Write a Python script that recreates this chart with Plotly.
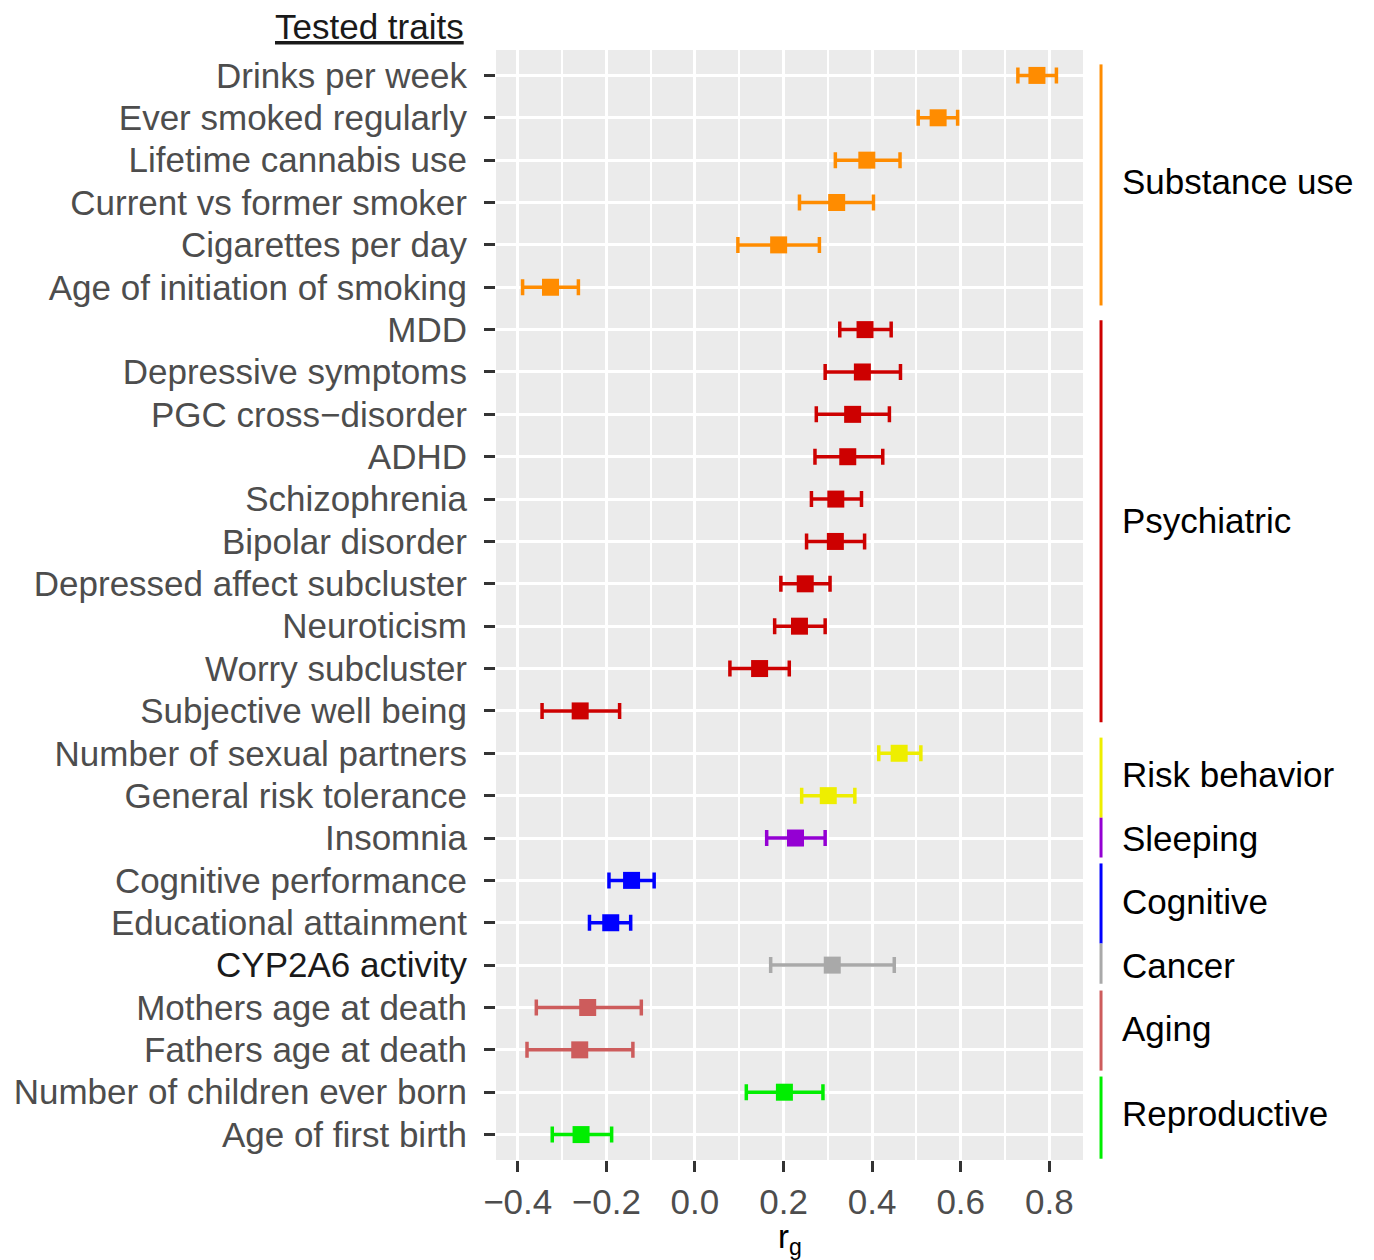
import plotly.graph_objects as go

# trait names, top to bottom
traits = [
    "Drinks per week", "Ever smoked regularly", "Lifetime cannabis use",
    "Current vs former smoker", "Cigarettes per day", "Age of initiation of smoking",
    "MDD", "Depressive symptoms", "PGC cross\u2212disorder", "ADHD", "Schizophrenia",
    "Bipolar disorder", "Depressed affect subcluster", "Neuroticism",
    "Worry subcluster", "Subjective well being",
    "Number of sexual partners", "General risk tolerance",
    "Insomnia",
    "Cognitive performance", "Educational attainment",
    "CYP2A6 activity",
    "Mothers age at death", "Fathers age at death",
    "Number of children ever born", "Age of first birth",
]

# genetic correlation and CI
rg = [0.772, 0.549, 0.388, 0.320, 0.189, -0.326,
      0.384, 0.378, 0.356, 0.345, 0.318, 0.317, 0.249, 0.236, 0.146, -0.259,
      0.461, 0.301,
      0.227,
      -0.143, -0.190,
      0.310,
      -0.242, -0.260,
      0.202, -0.257]
ci_low = [0.729, 0.504, 0.317, 0.236, 0.097, -0.389,
          0.327, 0.294, 0.274, 0.271, 0.263, 0.252, 0.194, 0.180, 0.079, -0.345,
          0.415, 0.241,
          0.162,
          -0.194, -0.238,
          0.171,
          -0.358, -0.379,
          0.116, -0.322]
ci_high = [0.816, 0.593, 0.463, 0.403, 0.281, -0.263,
           0.443, 0.464, 0.439, 0.424, 0.376, 0.383, 0.305, 0.294, 0.213, -0.170,
           0.510, 0.361,
           0.294,
           -0.092, -0.145,
           0.450,
           -0.121, -0.140,
           0.289, -0.188]

groups = ["Substance use", "Psychiatric", "Risk behavior", "Sleeping",
          "Cognitive", "Cancer", "Aging", "Reproductive"]
group_sizes = [6, 10, 2, 1, 2, 1, 2, 2]
group_colors = ["#FF8C00", "#CD0000", "#EEEE00", "#9400D3",
                "#0000FF", "#A9A9A9", "#CD5C5C", "#00EE00"]

# bracket spans on the right (row units)
bracket_spans = [(-0.26, 5.43), (5.78, 15.27), (15.63, 17.52), (17.52, 18.46),
                 (18.6, 20.49), (20.49, 21.44), (21.6, 23.49), (23.63, 25.57)]

FONT = "Liberation Sans, Arial, Helvetica, sans-serif"

fig = go.Figure()

start = 0
for g, n, col in zip(groups, group_sizes, group_colors):
    idx = list(range(start, start + n))
    fig.add_trace(go.Scatter(
        x=[rg[i] for i in idx],
        y=idx,
        mode="markers",
        marker=dict(symbol="square", size=17, color=col),
        error_x=dict(
            type="data", symmetric=False,
            array=[ci_high[i] - rg[i] for i in idx],
            arrayminus=[rg[i] - ci_low[i] for i in idx],
            color=col, thickness=3.5, width=8,
        ),
        name=g,
        showlegend=False,
    ))
    # group label
    fig.add_annotation(
        text=g, xref="paper", x=1.063, xanchor="left",
        yref="y", y=sum(idx) / n, yanchor="middle", showarrow=False,
        font=dict(family=FONT, size=35, color="black"),
    )
    start += n

for (y0, y1), col in zip(bracket_spans, group_colors):
    fig.add_shape(type="line", xref="paper", x0=1.0307, x1=1.0307,
                  yref="y", y0=y0, y1=y1, line=dict(color=col, width=3))

ticktext = []
for t in traits:
    if t == "CYP2A6 activity":
        ticktext.append(f"<span style='color:#1A1A1A'>{t}</span>")
    else:
        ticktext.append(t)

fig.add_annotation(
    text="<u>Tested traits</u>", xref="paper", x=-0.051, xanchor="right",
    yref="paper", y=1.021, yanchor="middle", showarrow=False,
    font=dict(family=FONT, size=35, color="#1A1A1A"),
)
fig.add_annotation(
    text="r<sub>g</sub>", xref="paper", x=0.5, xanchor="center",
    yref="paper", y=-0.071, yanchor="middle", showarrow=False,
    font=dict(family=FONT, size=33, color="black"),
)

# page body has an 8px margin, so the figure is 8px smaller than the window
fig.update_layout(
    width=1366, height=1252,
    margin=dict(l=488, r=291, t=42, b=100),
    plot_bgcolor="#EBEBEB", paper_bgcolor="white",
    font=dict(family=FONT, size=35, color="#4D4D4D"),
    xaxis=dict(
        range=[-0.449, 0.876],
        tickvals=[-0.4, -0.2, 0.0, 0.2, 0.4, 0.6, 0.8],
        ticktext=["\u22120.4", "\u22120.2", "0.0", "0.2", "0.4", "0.6", "0.8"],
        showgrid=True, gridcolor="white", gridwidth=3,
        minor=dict(tickvals=[-0.3, -0.1, 0.1, 0.3, 0.5, 0.7],
                   showgrid=True, gridcolor="white", gridwidth=1.5),
        ticks="outside", ticklen=11, tickwidth=3, tickcolor="#333333",
        zeroline=False, showline=False, automargin=False,
        tickfont=dict(family=FONT, size=35, color="#4D4D4D"),
    ),
    yaxis=dict(
        range=[25.6, -0.6],
        tickvals=list(range(len(traits))),
        ticktext=ticktext,
        showgrid=True, gridcolor="white", gridwidth=3,
        ticks="outside", ticklen=11, tickwidth=3, tickcolor="#333333",
        zeroline=False, showline=False, automargin=False,
        tickfont=dict(family=FONT, size=35, color="#4D4D4D"),
        ticklabelstandoff=10,
    ),
)

fig.write_html("out.html")
